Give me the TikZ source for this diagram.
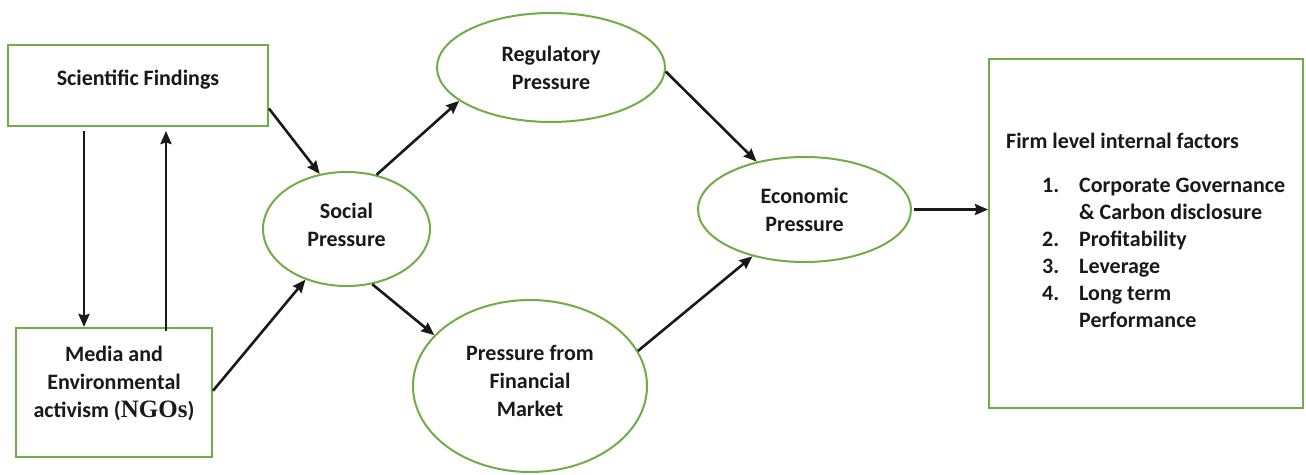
\documentclass[tikz,border=0pt]{standalone}
\usepackage{fontspec}
\setmainfont{Carlito}
\newfontfamily\ngofont{Liberation Serif}
\usetikzlibrary{shapes.geometric,arrows.meta,calc}
\definecolor{boxgreen}{RGB}{112,173,71}
\definecolor{inkgray}{RGB}{25,25,25}

\begin{document}
\begin{tikzpicture}[x=1pt,y=1pt,
  every node/.style={font=\fontsize{22}{28}\selectfont\bfseries, text=inkgray},
  box/.style={draw=boxgreen, line width=2pt, rectangle, inner sep=0pt, align=center},
  oval/.style={draw=boxgreen, line width=2pt, ellipse, inner sep=0pt, align=center},
  arr/.style={draw=inkgray, line width=2.6pt, -{Stealth[length=13pt,width=11pt,inset=1.5pt]}}
]
\useasboundingbox (0,0) rectangle (1306,474);

% sources of pressure
\node[box, minimum width=260pt, minimum height=81pt, text depth=16pt] (sci) at (138,388.5) {Scientific Findings};
\node[box, minimum width=196pt, minimum height=129pt, text depth=22pt] (media) at (114,81.5)
  {Media and\\Environmental\\activism ({\ngofont\fontsize{25}{28}\selectfont NGOs})};

% pressure channels
\node[oval, minimum width=167pt, minimum height=114pt, text depth=8pt] (soc) at (346.5,245) {Social\\Pressure};
\node[oval, minimum width=228pt, minimum height=109pt] (reg) at (551,406.5) {Regulatory\\Pressure};
\node[oval, minimum width=234pt, minimum height=172pt, text depth=10pt] (fin) at (530,88) {Pressure from\\Financial\\Market};
\node[oval, minimum width=213pt, minimum height=105pt] (econ) at (804.5,264.5) {Economic\\Pressure};

% outcome box
\node[box, minimum width=314pt, minimum height=349pt] (firm) at (1146,240.5) {};
\node[anchor=north west, inner sep=0pt, font=\fontsize{22}{27}\selectfont\bfseries] (firmtxt) at (1006,344.6) {%
  \begin{tabular}{@{}p{36pt}@{}p{37pt}@{}l@{}}
  \multicolumn{3}{@{}l@{}}{Firm level internal factors}\\[17pt]
  & 1. & Corporate Governance\\
  & & \& Carbon disclosure\\
  & 2. & Profitability\\
  & 3. & Leverage\\
  & 4. & Long term\\
  & & Performance
  \end{tabular}};

% links between scientific findings and media
\coordinate (dtop) at ($(sci.south)+(-54,-4)$);
\coordinate (ubot) at ($(media.north)+(52,-4)$);
\draw[arr] (dtop) -- (dtop |- media.north);
\draw[arr, shorten >=4pt] (ubot) -- (ubot |- sci.south);

% flows of pressure
\draw[arr] (sci.-10.5) -- (soc.116.6);
\draw[arr] (media.1.4) -- (soc.-129.7);
\draw[arr] (soc.61.6) -- (reg.200.8);
\draw[arr] (soc.-65.2) -- (fin.152.5);
\draw[arr] (reg.-2.3) -- (econ.135);
\draw[arr] (fin.18.6) -- (econ.222.3);
\draw[arr, shorten <=2pt] (econ.east) -- (econ.east -| firm.west);
\end{tikzpicture}
\end{document}
